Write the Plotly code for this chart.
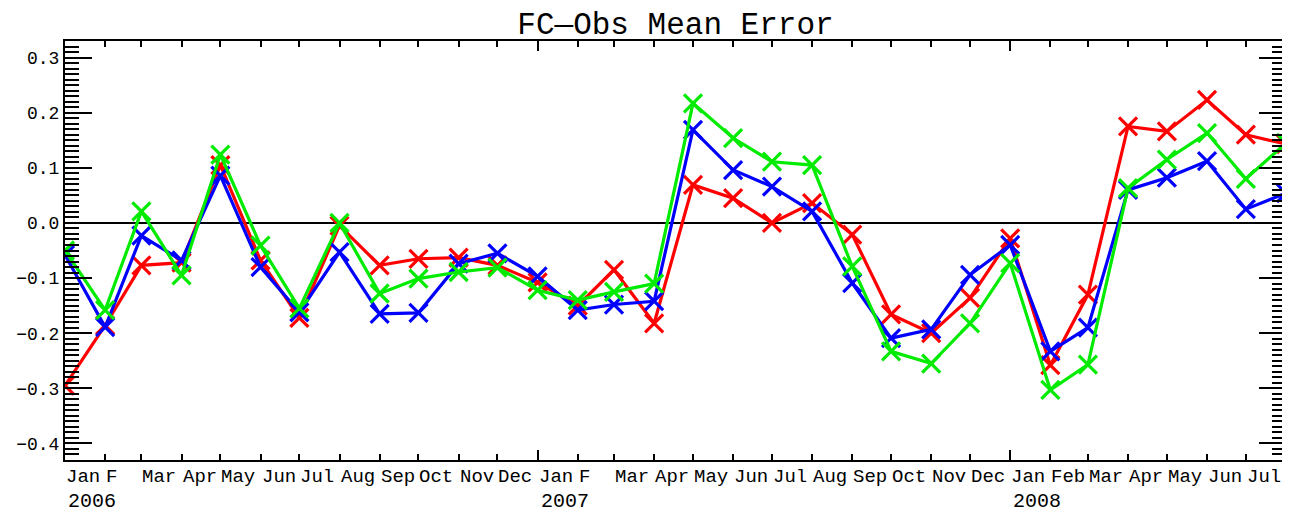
import pandas as pd
import plotly.graph_objects as go

# monthly points, Jan 2006 .. Aug 2008
months = pd.date_range("2006-01-01", periods=32, freq="MS")

red = [-0.295, -0.186, -0.077, -0.072, 0.105, -0.068, -0.172, -0.005,
       -0.077, -0.065, -0.063, -0.077, -0.108, -0.150, -0.085, -0.182,
       0.069, 0.045, 0.000, 0.036, -0.021, -0.166, -0.200, -0.136,
       -0.028, -0.258, -0.130, 0.175, 0.166, 0.223, 0.160, 0.143]
blue = [-0.058, -0.189, -0.023, -0.068, 0.086, -0.080, -0.162, -0.053,
        -0.165, -0.163, -0.074, -0.055, -0.097, -0.158, -0.148, -0.142,
        0.169, 0.096, 0.066, 0.021, -0.109, -0.209, -0.193, -0.094,
        -0.040, -0.233, -0.190, 0.060, 0.082, 0.112, 0.025, 0.054]
green = [-0.050, -0.158, 0.021, -0.095, 0.124, -0.041, -0.155, 0.000,
         -0.128, -0.101, -0.089, -0.081, -0.122, -0.140, -0.125, -0.110,
         0.217, 0.154, 0.111, 0.105, -0.079, -0.233, -0.255, -0.182,
         -0.073, -0.303, -0.257, 0.063, 0.115, 0.163, 0.080, 0.145]

month_labels = ["Jan", "F", "Mar", "Apr", "May", "Jun", "Jul", "Aug", "Sep", "Oct", "Nov", "Dec",
                "Jan", "F", "Mar", "Apr", "May", "Jun", "Jul", "Aug", "Sep", "Oct", "Nov", "Dec",
                "Jan", "Feb", "Mar", "Apr", "May", "Jun", "Jul"]
year_labels = ["2006", "2007", "2008"]
year_starts = ["2006-01-01", "2007-01-01", "2008-01-01"]

FONT = "Liberation Mono"

fig = go.Figure()

# drawn red, then blue, then green on top
for vals, color in [(red, "rgb(255,0,0)"), (blue, "rgb(0,0,255)"), (green, "rgb(0,235,0)")]:
    fig.add_trace(
        go.Scatter(
            x=months,
            y=vals,
            mode="lines+markers",
            line={"color": color, "width": 3.2},
            marker={"symbol": "x-thin", "size": 18, "line": {"color": color, "width": 3.2}},
            showlegend=False,
        )
    )

# ── month / year labels (left-aligned at each tick, IDL style) ──
for d, txt in zip(months, month_labels):
    fig.add_annotation(
        x=d, xref="x", y=0, yref="paper", text=txt, showarrow=False,
        xanchor="left", yanchor="middle", xshift=-1, yshift=-17,
        font={"family": FONT, "size": 19, "color": "black"},
    )
for d, txt in zip(year_starts, year_labels):
    fig.add_annotation(
        x=d, xref="x", y=0, yref="paper", text=txt, showarrow=False,
        xanchor="left", yanchor="middle", xshift=1, yshift=-41,
        font={"family": FONT, "size": 20, "color": "black"},
    )

fig.update_xaxes(
    type="date",
    range=["2006-01-01", "2008-08-01"],
    tickmode="linear",
    tick0="2006-01-01",
    dtick="M12",
    ticks="inside",
    ticklen=10,
    tickwidth=2,
    tickcolor="black",
    minor={"dtick": "M1", "ticks": "inside", "ticklen": 6, "tickwidth": 2, "tickcolor": "black"},
    showticklabels=False,
    showgrid=False,
    showline=True,
    linecolor="black",
    linewidth=2,
    mirror="ticks",
    zeroline=False,
)
fig.update_yaxes(
    range=[-0.43, 0.33],
    tickmode="linear",
    tick0=0,
    dtick=0.1,
    tickformat=".1f",
    ticks="inside",
    ticklen=27,
    tickwidth=2,
    tickcolor="black",
    minor={"dtick": 0.01, "ticks": "inside", "ticklen": 14, "tickwidth": 2, "tickcolor": "black"},
    tickfont={"family": FONT, "size": 18, "color": "black"},
    automargin=False,
    showgrid=False,
    showline=True,
    linecolor="black",
    linewidth=2,
    mirror="ticks",
    zeroline=True,
    zerolinecolor="black",
    zerolinewidth=1.5,
)

# page body has an 8px margin, so the figure is sized to end at the window edge
fig.update_layout(
    width=1282,
    height=504,
    paper_bgcolor="white",
    plot_bgcolor="white",
    margin={"l": 57, "r": 4, "t": 33, "b": 52},
    title={
        "text": "FC\u2014Obs Mean Error",
        "x": 0.5,
        "xref": "paper",
        "xanchor": "center",
        "y": 0.969,
        "yanchor": "middle",
        "font": {"family": FONT, "size": 31, "color": "black"},
    },
)

fig.write_html("out.html")
